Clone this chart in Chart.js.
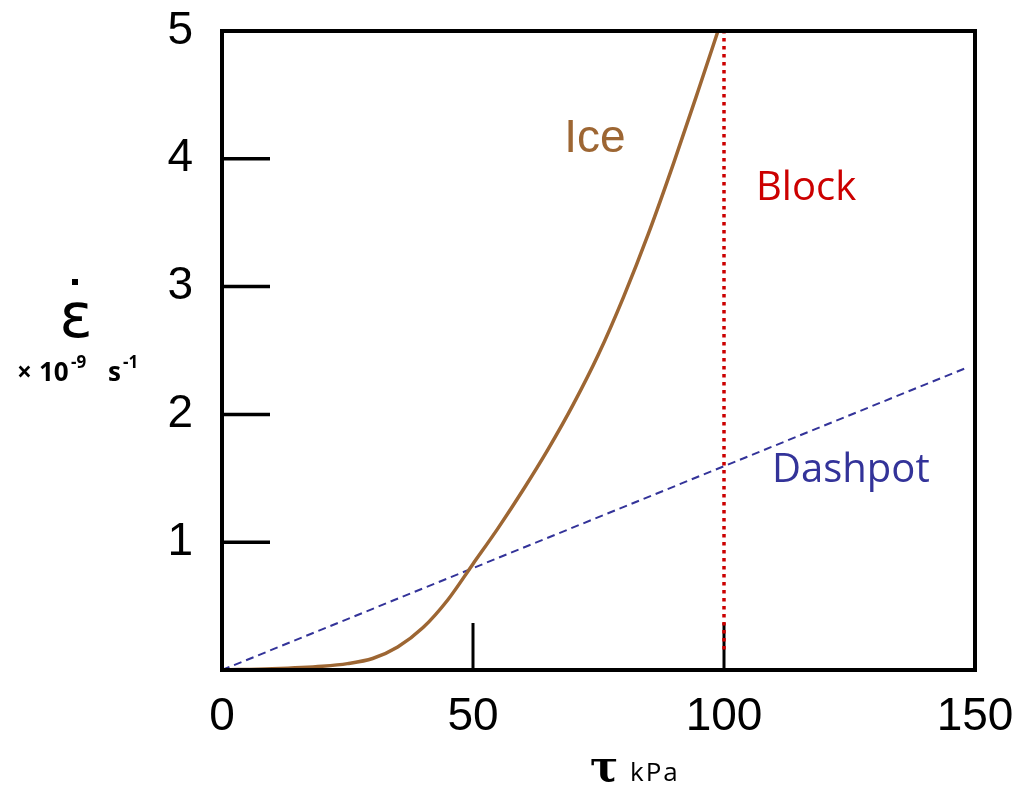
<!DOCTYPE html>
<html>
<head>
<meta charset="utf-8">
<script src="https://cdn.jsdelivr.net/npm/chart.js@4"></script>
<style>
html,body{margin:0;padding:0;background:#fff;}
#wrap{width:1036px;height:797px;position:relative;}
</style>
</head>
<body>
<div id="wrap"><canvas id="c" width="1036" height="797"></canvas></div>
<script>
// ---- data ----
const iceTau    = [0, 10, 20, 25, 30, 35, 40, 45, 50, 55, 60, 65, 70, 75, 80, 85, 90, 95, 98.8];
const iceRate   = [0, 0.01, 0.03, 0.05, 0.09, 0.18, 0.33, 0.55, 0.83, 1.11, 1.41, 1.73, 2.08, 2.47, 2.92, 3.42, 3.97, 4.55, 5.0];
const dashTau   = [0, 148];
const dashRate  = [0, 2.36];
const blockTau  = [100, 100];
const blockRate = [0.16, 5];
const xTicks    = [0, 50, 100, 150];
const yTicks    = [1, 2, 3, 4, 5];
const xInnerTicks = [50, 100];
const yInnerTicks = [1, 2, 3, 4];

const pts = (xs, ys) => xs.map((x, i) => ({x, y: ys[i]}));

const frame = {
  id: 'frame',
  beforeDatasetsDraw(chart) {
    const {ctx, chartArea: a, scales: {x, y}} = chart;
    ctx.save();
    ctx.strokeStyle = '#000';
    ctx.lineWidth = 3.5;
    ctx.lineCap = 'butt';
    yInnerTicks.forEach(v => {
      const py = y.getPixelForValue(v);
      ctx.beginPath(); ctx.moveTo(a.left, py); ctx.lineTo(a.left + 48, py); ctx.stroke();
    });
    ctx.lineWidth = 3;
    xInnerTicks.forEach(v => {
      const px = x.getPixelForValue(v);
      ctx.beginPath(); ctx.moveTo(px, a.bottom); ctx.lineTo(px, a.bottom - 47); ctx.stroke();
    });
    ctx.restore();
  },
  afterDraw(chart) {
    const {ctx, chartArea: a} = chart;
    ctx.save();
    ctx.strokeStyle = '#000';
    ctx.lineWidth = 4;
    ctx.strokeRect(a.left, a.top, a.right - a.left, a.bottom - a.top);

    // annotations
    ctx.textBaseline = 'alphabetic';
    ctx.fillStyle = '#9d6633';
    ctx.font = '46px "Liberation Sans", Arial, sans-serif';
    ctx.textAlign = 'center';
    ctx.fillText('Ice', 595, 152);

    ctx.fillStyle = '#cc0000';
    ctx.font = '40px "Comic Sans MS", "Open Sans", sans-serif';
    ctx.textAlign = 'left';
    ctx.fillText('Block', 756, 200);

    ctx.fillStyle = '#333399';
    ctx.fillText('Dashpot', 772, 482);

    // y axis title
    ctx.fillStyle = '#000';
    ctx.textAlign = 'center';
    ctx.font = '62px "DejaVu Sans", sans-serif';
    ctx.fillText('ε', 76, 337);
    ctx.fillRect(72, 279, 6, 6);
    const big = 'bold 26px "Comic Sans MS", "Open Sans", sans-serif';
    const sup = 'bold 17px "Comic Sans MS", "Open Sans", sans-serif';
    ctx.textAlign = 'left';
    ctx.font = big; ctx.fillText('×', 17, 381);
    ctx.font = big; ctx.fillText('10', 39, 381);
    ctx.font = sup; ctx.fillText('-9', 71, 368);
    ctx.font = big; ctx.fillText('s', 108, 381);
    ctx.font = sup; ctx.fillText('-1', 123, 368);

    // x axis title
    ctx.font = 'bold 42px "DejaVu Serif", serif';
    ctx.fillText('τ', 590, 781);
    ctx.font = '26px "Comic Sans MS", "Open Sans", sans-serif';
    try { ctx.letterSpacing = '2px'; } catch (e) {}
    ctx.fillText('kPa', 630, 781);
    ctx.restore();
  }
};

const noPad = s => { s.paddingTop = 0; s.paddingBottom = 0; s.paddingLeft = 0; s.paddingRight = 0; };

new Chart(document.getElementById('c'), {
  type: 'scatter',
  data: {
    datasets: [
      { label: 'Ice', data: pts(iceTau, iceRate), showLine: true, borderColor: '#9d6633', borderWidth: 3.5,
        pointRadius: 0, cubicInterpolationMode: 'monotone', clip: 6 },
      { label: 'Dashpot', data: pts(dashTau, dashRate), showLine: true, borderColor: '#333399', borderWidth: 2,
        borderDash: [8, 5], pointRadius: 0, clip: 6 },
      { label: 'Block', data: pts(blockTau, blockRate), showLine: true, borderColor: '#cc0000', borderWidth: 3.5,
        borderDash: [3.5, 4.5], pointRadius: 0, clip: 6 }
    ]
  },
  options: {
    responsive: false,
    animation: false,
    events: [],
    layout: { padding: { top: 31, right: 61, left: 0, bottom: 0 } },
    plugins: { legend: { display: false }, tooltip: { enabled: false } },
    scales: {
      x: {
        type: 'linear', min: 0, max: 150,
        afterBuildTicks: s => { s.ticks = xTicks.map(v => ({value: v})); },
        afterFit: s => { s.height = 127; noPad(s); },
        grid: { display: false, drawTicks: false },
        border: { display: false },
        ticks: { color: '#000', padding: 20, maxRotation: 0,
          font: { family: '"Liberation Sans", Arial, sans-serif', size: 46 } }
      },
      y: {
        type: 'linear', min: 0, max: 5,
        afterBuildTicks: s => { s.ticks = yTicks.map(v => ({value: v})); },
        afterFit: s => { s.width = 222; noPad(s); },
        grid: { display: false, drawTicks: false },
        border: { display: false },
        ticks: { color: '#000', padding: 29,
          font: { family: '"Liberation Sans", Arial, sans-serif', size: 46 } }
      }
    }
  },
  plugins: [frame]
});
</script>
</body>
</html>
